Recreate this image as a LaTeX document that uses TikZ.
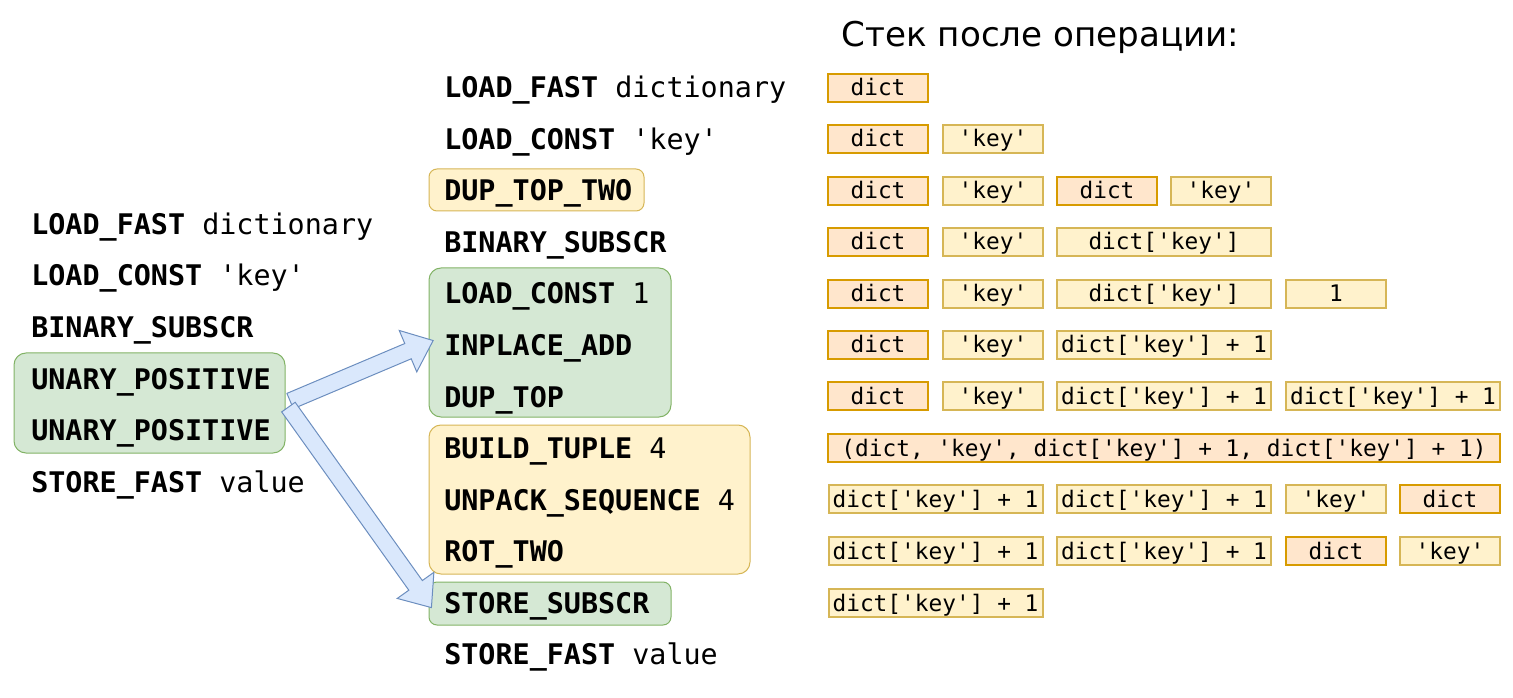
\documentclass[tikz,border=0pt]{standalone}
\usepackage{fontspec}
\setmainfont{DejaVu Sans}
\setmonofont{DejaVu Sans Mono}
\usetikzlibrary{fit,shapes.arrows,calc}
\definecolor{gfill}{HTML}{D5E8D4}
\definecolor{gline}{HTML}{82B366}
\definecolor{yfill}{HTML}{FFF2CC}
\definecolor{yline}{HTML}{D6B656}
\definecolor{ofill}{HTML}{FFE6CC}
\definecolor{oline}{HTML}{D79B00}
\definecolor{bfill}{HTML}{DAE8FC}
\definecolor{bline}{HTML}{6C8EBF}
\tikzset{
  op/.style={anchor=base west, inner sep=0pt, font=\fontsize{21.3pt}{24pt}\ttfamily},
  gbox/.style={draw=gline, fill=gfill, rounded corners=9pt, line width=0.75pt, inner sep=0pt},
  ybox/.style={draw=yline, fill=yfill, rounded corners=9pt, line width=0.75pt, inner sep=0pt},
  sk/.style={draw=yline, fill=yfill, line width=1.5pt, minimum height=21pt, minimum width=75pt,
    inner sep=0pt, text height=14pt, text depth=2pt, font=\fontsize{17.1pt}{20pt}\ttfamily},
  sd/.style={sk, draw=oline, fill=ofill},
  wide/.style={minimum width=160.5pt},
  flex/.style={single arrow, draw=bline, fill=bfill, line width=0.75pt, inner xsep=0pt,
    inner ysep=5.85pt, text height=0pt, text depth=0pt, minimum width=33pt,
    single arrow head extend=10.65pt, single arrow tip angle=79}
}
\begin{document}
\begin{tikzpicture}[x=0.75pt,y=-0.75pt]
\useasboundingbox (0,0) rectangle (1513,698);
% group boxes
\node[gbox, fit={(14,353) (285,453)}] (g1) {};
\node[ybox, rounded corners=6pt, fit={(429,169) (644,211)}] (y1) {};
\node[gbox, fit={(429,268) (671,417)}] (g2) {};
\node[ybox, fit={(429,425) (750,574)}] (y2) {};
\node[gbox, rounded corners=6pt, fit={(429,582) (671,625)}] (g3) {};
% arrows
\path let \p1=(g1.east), \p2=(g2.west), \n1={atan2(\y2-\y1,\x2-\x1)}, \n2={veclen(\x2-\x1,\y2-\y1)} in
  node[flex, minimum height=\n2, rotate=\n1] (a1) at ($(\p1)!0.5!(\p2)$) {};
\path let \p1=(g1.east), \p2=(g3.west), \n1={atan2(\y2-\y1,\x2-\x1)}, \n2={veclen(\x2-\x1,\y2-\y1)} in
  node[flex, minimum height=\n2, rotate=\n1] (a2) at ($(\p1)!0.5!(\p2)$) {};
% left column
\node[op] (l1) at (31,234.5) {\textbf{LOAD\_FAST} dictionary};
\node[op] (l2) at (31,286) {\textbf{LOAD\_CONST} 'key'};
\node[op] (l3) at (31,337.5) {\textbf{BINARY\_SUBSCR}};
\node[op] (l4) at (31,389) {\textbf{UNARY\_POSITIVE}};
\node[op] (l5) at (31,440.5) {\textbf{UNARY\_POSITIVE}};
\node[op] (l6) at (31,492) {\textbf{STORE\_FAST} value};
% middle column
\node[op] (m1) at (444,98) {\textbf{LOAD\_FAST} dictionary};
\node[op] (m2) at (444,149.5) {\textbf{LOAD\_CONST} 'key'};
\node[op] (m3) at (444,201) {\textbf{DUP\_TOP\_TWO}};
\node[op] (m4) at (444,252.5) {\textbf{BINARY\_SUBSCR}};
\node[op] (m5) at (444,304) {\textbf{LOAD\_CONST} 1};
\node[op] (m6) at (444,355.5) {\textbf{INPLACE\_ADD}};
\node[op] (m7) at (444,407) {\textbf{DUP\_TOP}};
\node[op] (m8) at (444,458.5) {\textbf{BUILD\_TUPLE} 4};
\node[op] (m9) at (444,510) {\textbf{UNPACK\_SEQUENCE} 4};
\node[op] (m10) at (444,561.5) {\textbf{ROT\_TWO}};
\node[op] (m11) at (444,613) {\textbf{STORE\_SUBSCR}};
\node[op] (m12) at (444,664.5) {\textbf{STORE\_FAST} value};
% title
\node[inner sep=0pt, font=\fontsize{25.6pt}{30pt}\selectfont] (title) at (1040.5,37) {Стек после операции:};
% stack
\node[sd] (s1a) at (878,88) {dict};
\node[sd] (s2a) at (878,139) {dict};
\node[sk] (s2b) at (993,139) {'key'};
\node[sd] (s3a) at (878,191) {dict};
\node[sk] (s3b) at (993,191) {'key'};
\node[sd] (s3c) at (1107,191) {dict};
\node[sk] (s3d) at (1221,191) {'key'};
\node[sd] (s4a) at (878,242) {dict};
\node[sk] (s4b) at (993,242) {'key'};
\node[sk, wide] (s4c) at (1164,242) {dict['key']};
\node[sd] (s5a) at (878,294) {dict};
\node[sk] (s5b) at (993,294) {'key'};
\node[sk, wide] (s5c) at (1164,294) {dict['key']};
\node[sk] (s5d) at (1336,294) {1};
\node[sd] (s6a) at (878,345) {dict};
\node[sk] (s6b) at (993,345) {'key'};
\node[sk, wide] (s6c) at (1164,345) {dict['key'] + 1};
\node[sd] (s7a) at (878,396) {dict};
\node[sk] (s7b) at (993,396) {'key'};
\node[sk, wide] (s7c) at (1164,396) {dict['key'] + 1};
\node[sk, wide] (s7d) at (1393,396) {dict['key'] + 1};
\node[sd, minimum width=504pt] (s8a) at (1164,448) {(dict, 'key', dict['key'] + 1, dict['key'] + 1)};
\node[sk, wide] (s9a) at (935.5,499) {dict['key'] + 1};
\node[sk, wide] (s9b) at (1164,499) {dict['key'] + 1};
\node[sk] (s9c) at (1336,499) {'key'};
\node[sd] (s9d) at (1450,499) {dict};
\node[sk, wide] (s10a) at (935.5,551) {dict['key'] + 1};
\node[sk, wide] (s10b) at (1164,551) {dict['key'] + 1};
\node[sd] (s10c) at (1336,551) {dict};
\node[sk] (s10d) at (1450,551) {'key'};
\node[sk, wide] (s11a) at (935.5,603) {dict['key'] + 1};
\end{tikzpicture}
\end{document}
